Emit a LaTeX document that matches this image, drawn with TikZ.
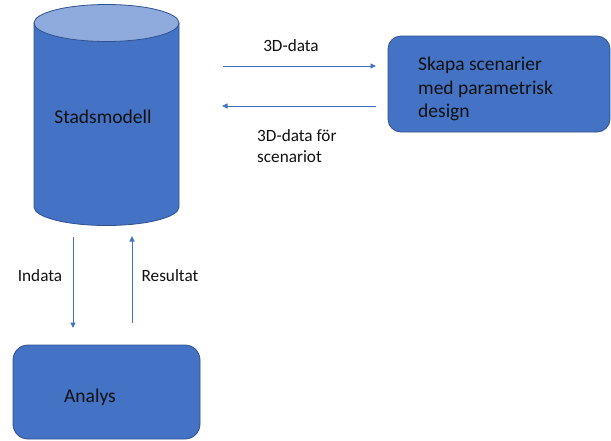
\documentclass[tikz,border=0pt]{standalone}
\usepackage{fontspec}
\setmainfont{Carlito}
\usetikzlibrary{arrows.meta}
\definecolor{boxfill}{HTML}{4472C4}
\definecolor{boxedge}{HTML}{2F528F}
\definecolor{toplight}{HTML}{8FAADC}
\definecolor{txt}{HTML}{111111}
\tikzset{
  shapestyle/.style={fill=boxfill, draw=boxedge, line width=0.8pt},
  maintext/.style={font=\fontsize{19.5}{23.5}\selectfont, text=txt, inner sep=0pt},
  labeltext/.style={font=\fontsize{17.2}{21}\selectfont, text=txt, inner sep=0pt},
  flow/.style={draw=boxfill, line width=0.9pt, -{Triangle[length=5.5pt,width=5pt]}}
}
\begin{document}
\begin{tikzpicture}[x=1pt,y=-1pt]
\useasboundingbox (0,0) rectangle (611,440);
% cylinder
\path[shapestyle] (34,23) -- (34,207) arc[start angle=180,end angle=0,x radius=72.5,y radius=18.5] -- (179,23) -- cycle;
\path[fill=toplight, draw=boxedge, line width=0.8pt] (106.5,23) ellipse [x radius=72.5, y radius=18.5];
\node[maintext] (stad) at (103,117) {Stadsmodell};
% right box
\path[shapestyle, rounded corners=13pt] (388,36) rectangle (610,132);
\node[maintext, anchor=west, align=left] (skapa) at (418,89) {Skapa scenarier\\med parametrisk\\design};
% analys box
\path[shapestyle, rounded corners=15pt] (13,345) rectangle (200,439);
\node[maintext] (analys) at (90,397) {Analys};
% connector endpoints
\coordinate (h1s) at (223,66);
\coordinate (h1e) at (376,66);
\coordinate (h2s) at (376,106);
\coordinate (h2e) at (222,106);
\coordinate (v1s) at (73,237);
\coordinate (v1e) at (73,328);
\coordinate (v2s) at (132,323);
\coordinate (v2e) at (132,236);
\draw[flow] (h1s) -- (h1e);
\draw[flow] (h2s) -- (h2e);
\draw[flow] (v1s) -- (v1e);
\draw[flow] (v2s) -- (v2e);
% labels
\node[labeltext] (l3d) at (291,46) {3D-data};
\node[labeltext, anchor=west, align=left] (l3df) at (257,146) {3D-data för\\scenariot};
\node[labeltext] (lin) at (40,276) {Indata};
\node[labeltext] (lres) at (170,276) {Resultat};
\end{tikzpicture}
\end{document}
